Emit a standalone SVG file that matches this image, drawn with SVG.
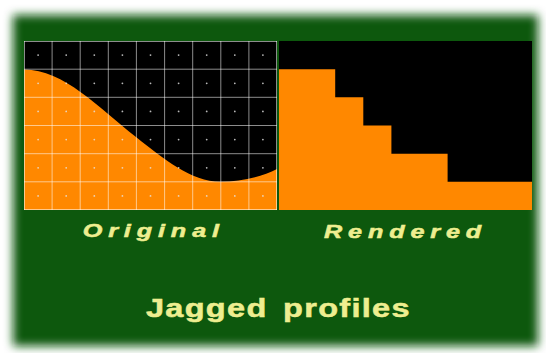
<svg xmlns="http://www.w3.org/2000/svg" width="546" height="353" viewBox="0 0 546 353">
  <defs>
    <filter id="softEdge" filterUnits="userSpaceOnUse" x="-20" y="-20" width="586" height="393">
      <feGaussianBlur stdDeviation="5"/>
    </filter>
    <style>
      .board { fill: #0c580c; }
      .screen { fill: #000000; }
      .fill { fill: #ff8800; }
      .grid { fill: none; stroke: #ffffff; stroke-opacity: 0.55; stroke-width: 1; }
      .dots { fill: none; stroke: #e6e6e6; stroke-opacity: 0.8; stroke-width: 1.8; stroke-linecap: round; }
      .caption { fill: #eeee90; stroke: #eeee90; stroke-width: 0.5; font-family: "Liberation Sans", Arial, sans-serif; font-weight: bold; }
      .sub { font-size: 18px; font-style: italic; letter-spacing: 4.2px; }
      .title { font-size: 25px; letter-spacing: 1px; word-spacing: 4px; }
    </style>
  </defs>

  <!-- white page with a soft-edged green board -->
  <rect x="0" y="0" width="546" height="353" fill="#ffffff"/>
  <rect class="board" x="13" y="15" width="525" height="331" filter="url(#softEdge)"/>

  <!-- left panel: smooth profile over the pixel grid -->
  <g id="panel-original">
    <rect class="screen" x="24" y="41" width="253" height="169"/>
    <path class="fill" d="M24,69.5 C64,69.5 99,108 136,137 C164,159 190.7,181.7 220.7,181.7 C240,181.7 262,177 277,169 L277,210 L24,210 Z"/>
    <path class="grid" d="M24.5,41 V210 M52.1,41 V210 M80.2,41 V210 M108.3,41 V210 M136.4,41 V210 M164.6,41 V210 M192.7,41 V210 M220.8,41 V210 M248.9,41 V210 M276.5,41 V210
      M24,41.5 H277 M24,69.2 H277 M24,97.3 H277 M24,125.5 H277 M24,153.7 H277 M24,181.8 H277 M24,209.5 H277"/>
    <path class="dots" d="
      M38.1,55.1 h0.01 M66.2,55.1 h0.01 M94.3,55.1 h0.01 M122.4,55.1 h0.01 M150.5,55.1 h0.01 M178.6,55.1 h0.01 M206.7,55.1 h0.01 M234.8,55.1 h0.01 M262.9,55.1 h0.01
      M38.1,83.3 h0.01 M66.2,83.3 h0.01 M94.3,83.3 h0.01 M122.4,83.3 h0.01 M150.5,83.3 h0.01 M178.6,83.3 h0.01 M206.7,83.3 h0.01 M234.8,83.3 h0.01 M262.9,83.3 h0.01
      M38.1,111.4 h0.01 M66.2,111.4 h0.01 M94.3,111.4 h0.01 M122.4,111.4 h0.01 M150.5,111.4 h0.01 M178.6,111.4 h0.01 M206.7,111.4 h0.01 M234.8,111.4 h0.01 M262.9,111.4 h0.01
      M38.1,139.6 h0.01 M66.2,139.6 h0.01 M94.3,139.6 h0.01 M122.4,139.6 h0.01 M150.5,139.6 h0.01 M178.6,139.6 h0.01 M206.7,139.6 h0.01 M234.8,139.6 h0.01 M262.9,139.6 h0.01
      M38.1,167.8 h0.01 M66.2,167.8 h0.01 M94.3,167.8 h0.01 M122.4,167.8 h0.01 M150.5,167.8 h0.01 M178.6,167.8 h0.01 M206.7,167.8 h0.01 M234.8,167.8 h0.01 M262.9,167.8 h0.01
      M38.1,195.9 h0.01 M66.2,195.9 h0.01 M94.3,195.9 h0.01 M122.4,195.9 h0.01 M150.5,195.9 h0.01 M178.6,195.9 h0.01 M206.7,195.9 h0.01 M234.8,195.9 h0.01 M262.9,195.9 h0.01"/>
  </g>

  <!-- right panel: the same profile snapped to whole cells -->
  <g id="panel-rendered">
    <rect class="screen" x="279" y="41" width="253" height="169"/>
    <path class="fill" d="M279,69.2 H335.2 V97.3 H363.3 V125.5 H391.4 V153.7 H447.6 V181.8 H532 V210 H279 Z"/>
  </g>

  <!-- captions: horizontally stretched lettering -->
  <g id="labels">
    <text class="caption sub" transform="scale(1.4,1)" x="59.1" y="237.5">Original</text>
    <text class="caption sub" transform="scale(1.4,1)" x="231.4" y="238">Rendered</text>
    <text class="caption title" transform="scale(1.3,1)" x="112.3" y="317">Jagged profiles</text>
  </g>
</svg>
